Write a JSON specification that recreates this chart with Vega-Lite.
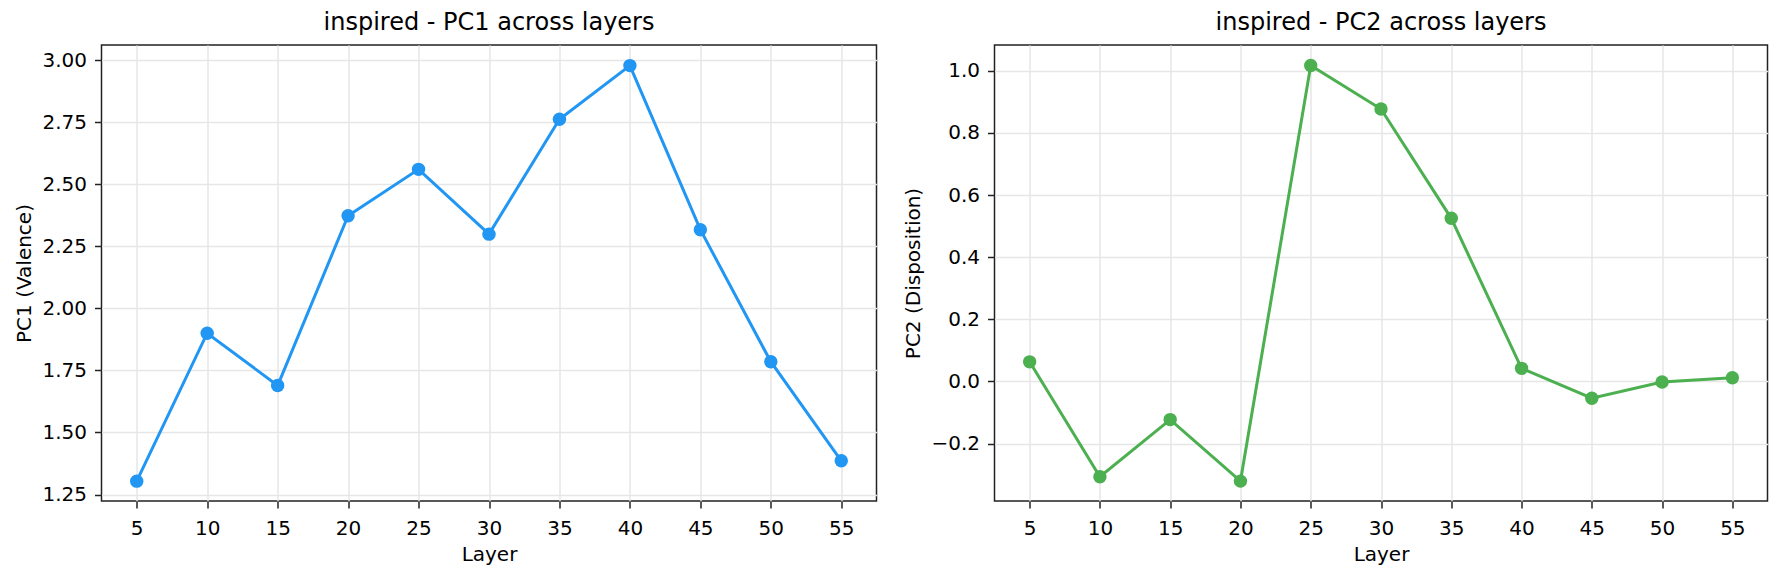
{
  "$schema": "https://vega.github.io/schema/vega-lite/v6.json",
  "background": "white",
  "padding": {"left": 13.5, "top": 10, "right": 15, "bottom": 5},
  "spacing": 25,
  "datasets": {
    "pc": [
      {"layer": 5, "pc1": 1.304, "pc2": 0.063},
      {"layer": 10, "pc1": 1.9, "pc2": -0.307},
      {"layer": 15, "pc1": 1.689, "pc2": -0.123},
      {"layer": 20, "pc1": 2.373, "pc2": -0.321},
      {"layer": 25, "pc1": 2.56, "pc2": 1.017},
      {"layer": 30, "pc1": 2.299, "pc2": 0.877},
      {"layer": 35, "pc1": 2.762, "pc2": 0.525},
      {"layer": 40, "pc1": 2.978, "pc2": 0.042},
      {"layer": 45, "pc1": 2.317, "pc2": -0.054},
      {"layer": 50, "pc1": 1.785, "pc2": -0.002},
      {"layer": 55, "pc1": 1.386, "pc2": 0.012}
    ]
  },
  "hconcat": [
    {
      "width": 775,
      "height": 456,
      "title": "inspired - PC1 across layers",
      "data": {"name": "pc"},
      "encoding": {
        "x": {
          "field": "layer", "type": "quantitative", "title": "Layer",
          "scale": {"domain": [2.5, 57.5], "nice": false, "zero": false},
          "axis": {"values": [5, 10, 15, 20, 25, 30, 35, 40, 45, 50, 55]}
        },
        "y": {
          "field": "pc1", "type": "quantitative", "title": "PC1 (Valence)",
          "scale": {"domain": [1.224, 3.061], "nice": false, "zero": false},
          "axis": {"values": [1.25, 1.5, 1.75, 2.0, 2.25, 2.5, 2.75, 3.0], "format": ".2f"}
        }
      },
      "layer": [
        {"mark": {"type": "line", "color": "#2196F3", "strokeWidth": 3}},
        {"mark": {"type": "point", "filled": true, "color": "#2196F3", "size": 180, "opacity": 1}}
      ]
    },
    {
      "width": 773,
      "height": 456,
      "title": "inspired - PC2 across layers",
      "data": {"name": "pc"},
      "encoding": {
        "x": {
          "field": "layer", "type": "quantitative", "title": "Layer",
          "scale": {"domain": [2.5, 57.5], "nice": false, "zero": false},
          "axis": {"values": [5, 10, 15, 20, 25, 30, 35, 40, 45, 50, 55]}
        },
        "y": {
          "field": "pc2", "type": "quantitative", "title": "PC2 (Disposition)",
          "scale": {"domain": [-0.385, 1.083], "nice": false, "zero": false},
          "axis": {"values": [-0.2, 0.0, 0.2, 0.4, 0.6, 0.8, 1.0], "format": ".1f"}
        }
      },
      "layer": [
        {"mark": {"type": "line", "color": "#4CAF50", "strokeWidth": 3}},
        {"mark": {"type": "point", "filled": true, "color": "#4CAF50", "size": 180, "opacity": 1}}
      ]
    }
  ],
  "config": {
    "font": "DejaVu Sans",
    "view": {"stroke": "#222", "strokeWidth": 1.5},
    "axis": {
      "domain": false,
      "tickColor": "#222",
      "tickWidth": 1.5,
      "tickSize": 7,
      "labelFont": "DejaVu Sans",
      "labelFontSize": 20,
      "labelColor": "#000",
      "titleFont": "DejaVu Sans",
      "titleFontSize": 20,
      "titleFontWeight": "normal",
      "titleColor": "#000",
      "gridColor": "#e6e6e6",
      "gridWidth": 1.5
    },
    "axisX": {"labelPadding": 10, "titlePadding": 6},
    "axisY": {"labelPadding": 8, "titlePadding": 7},
    "title": {"font": "DejaVu Sans", "fontSize": 24, "fontWeight": "normal", "color": "#000", "anchor": "middle", "offset": 10}
  }
}
